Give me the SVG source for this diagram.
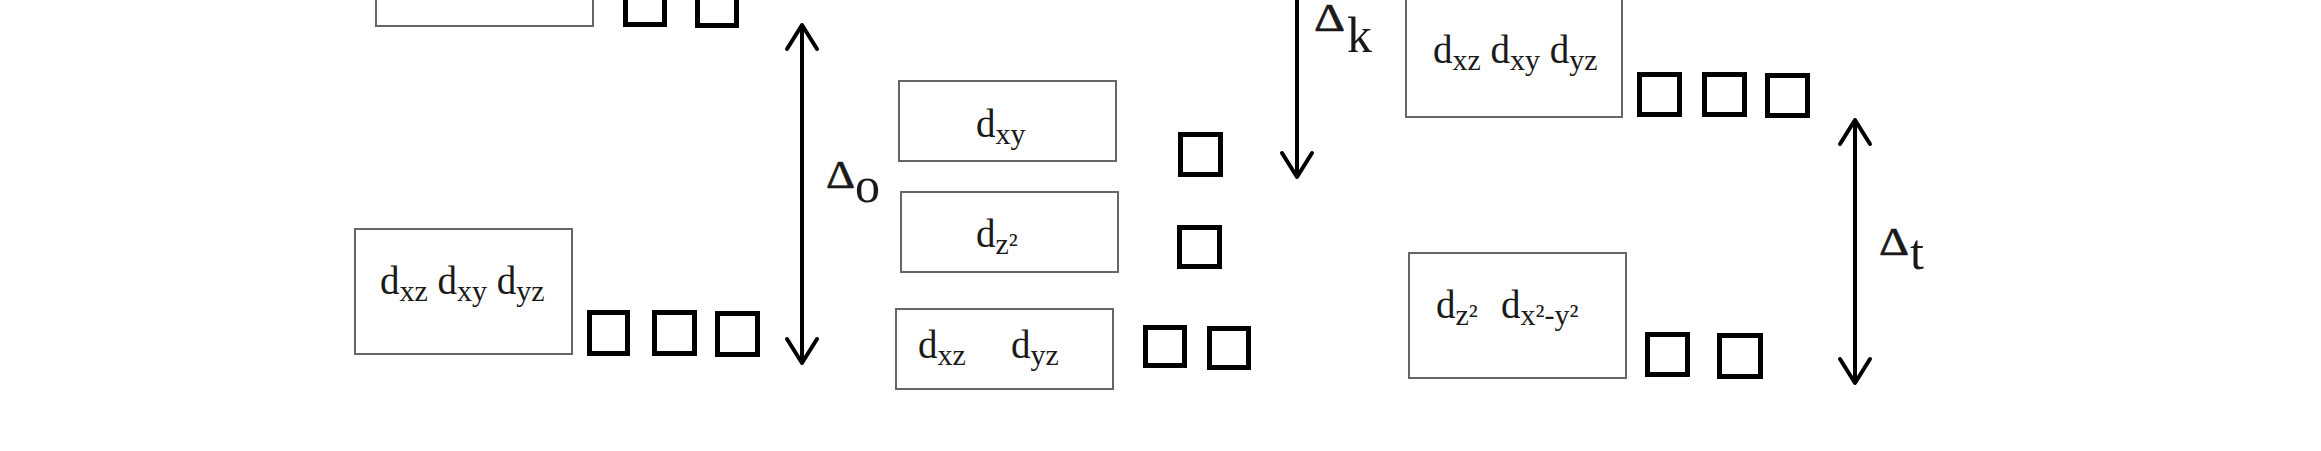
<svg xmlns="http://www.w3.org/2000/svg" width="2321" height="451" viewBox="0 0 2321 451">
<style>
.box{fill:#fff;stroke:#666;stroke-width:2}
.sq{fill:none;stroke:#000;stroke-width:5}
.lbl{font-family:"Liberation Serif","Times New Roman",serif;font-size:39px;fill:#1a1a1a}
.sub{font-size:30px}
.dl{font-family:"Liberation Serif","Times New Roman",serif;fill:#1a1a1a;font-size:50px}
.delta{font-family:"Liberation Serif","Times New Roman",serif;font-size:40px;fill:#1a1a1a;stroke:#1a1a1a;stroke-width:0.6}
.arr{fill:none;stroke:#000;stroke-width:4;marker-start:url(#head);marker-end:url(#head)}
.arr1{fill:none;stroke:#000;stroke-width:4;marker-end:url(#head)}
</style>
<defs>
<marker id="head" viewBox="-4 -19 32 38" refX="24" refY="0" markerWidth="32" markerHeight="38" markerUnits="userSpaceOnUse" orient="auto-start-reverse" overflow="visible">
<path d="M0,-15 L24,0 L0,15" fill="none" stroke="#000" stroke-width="4" stroke-linejoin="round" stroke-linecap="round"/>
</marker>
</defs>
<rect width="2321" height="451" fill="#fff"/>

<g id="connectors">
<path class="arr" d="M802,363 L802,25"/>
<path class="arr1" d="M1297,-10 L1297,177"/>
<path class="arr" d="M1855,383 L1855,120"/>
</g>

<g id="label-delta-o">
<text class="delta" x="826" y="188" textLength="29" lengthAdjust="spacingAndGlyphs">Δ</text>
<text class="dl" x="855" y="202">o</text>
</g>
<g id="label-delta-k">
<text class="delta" x="1314" y="31" textLength="31" lengthAdjust="spacingAndGlyphs">Δ</text>
<text class="dl" x="1347" y="52">k</text>
</g>
<g id="label-delta-t">
<text class="delta" x="1879" y="255" textLength="30" lengthAdjust="spacingAndGlyphs">Δ</text>
<text class="dl" x="1910" y="269">t</text>
</g>

<g id="node-free-ion">
<rect class="box" x="376" y="-80" width="217" height="106"/>
<rect class="sq" x="625.5" y="-14.5" width="39" height="39"/>
<rect class="sq" x="697.5" y="-13.5" width="39" height="39"/>
</g>

<g id="node-oh-t2g">
<rect class="box" x="355" y="229" width="217" height="125"/>
<text class="lbl" x="380" y="294">d<tspan class="sub" dy="7">xz</tspan><tspan dy="-7"> d</tspan><tspan class="sub" dy="7">xy</tspan><tspan dy="-7"> d</tspan><tspan class="sub" dy="7">yz</tspan></text>
<rect class="sq" x="589.5" y="312.5" width="38" height="41"/>
<rect class="sq" x="654.5" y="312.5" width="40" height="41"/>
<rect class="sq" x="717.5" y="313.5" width="40" height="41"/>
</g>

<g id="node-dxy">
<rect class="box" x="899" y="81" width="217" height="80"/>
<text class="lbl" x="976" y="137">d<tspan class="sub" dy="7">xy</tspan></text>
<rect class="sq" x="1180.5" y="134.5" width="40" height="40"/>
</g>

<g id="node-dz2">
<rect class="box" x="901" y="192" width="217" height="80"/>
<text class="lbl" x="976" y="247">d<tspan class="sub" dy="7">z²</tspan></text>
<rect class="sq" x="1179.5" y="227.5" width="40" height="39"/>
</g>

<g id="node-dxz-dyz">
<rect class="box" x="896" y="309" width="217" height="80"/>
<text class="lbl" y="358"><tspan x="918">d</tspan><tspan class="sub" dy="7">xz</tspan><tspan x="1011" dy="-7">d</tspan><tspan class="sub" dy="7">yz</tspan></text>
<rect class="sq" x="1145.5" y="327.5" width="39" height="38"/>
<rect class="sq" x="1209.5" y="328.5" width="39" height="39"/>
</g>

<g id="node-td-t2">
<rect class="box" x="1406" y="-20" width="216" height="137"/>
<text class="lbl" x="1433" y="63">d<tspan class="sub" dy="7">xz</tspan><tspan dy="-7"> d</tspan><tspan class="sub" dy="7">xy</tspan><tspan dy="-7"> d</tspan><tspan class="sub" dy="7">yz</tspan></text>
<rect class="sq" x="1639.5" y="74.5" width="40" height="40"/>
<rect class="sq" x="1704.5" y="74.5" width="40" height="40"/>
<rect class="sq" x="1767.5" y="75.5" width="40" height="40"/>
</g>

<g id="node-td-e">
<rect class="box" x="1409" y="253" width="217" height="125"/>
<text class="lbl" y="318"><tspan x="1436">d</tspan><tspan class="sub" dy="7">z²</tspan><tspan x="1501" dy="-7">d</tspan><tspan class="sub" dy="7">x²-y²</tspan></text>
<rect class="sq" x="1647.5" y="334.5" width="40" height="40"/>
<rect class="sq" x="1719.5" y="335.5" width="41" height="41"/>
</g>
</svg>
